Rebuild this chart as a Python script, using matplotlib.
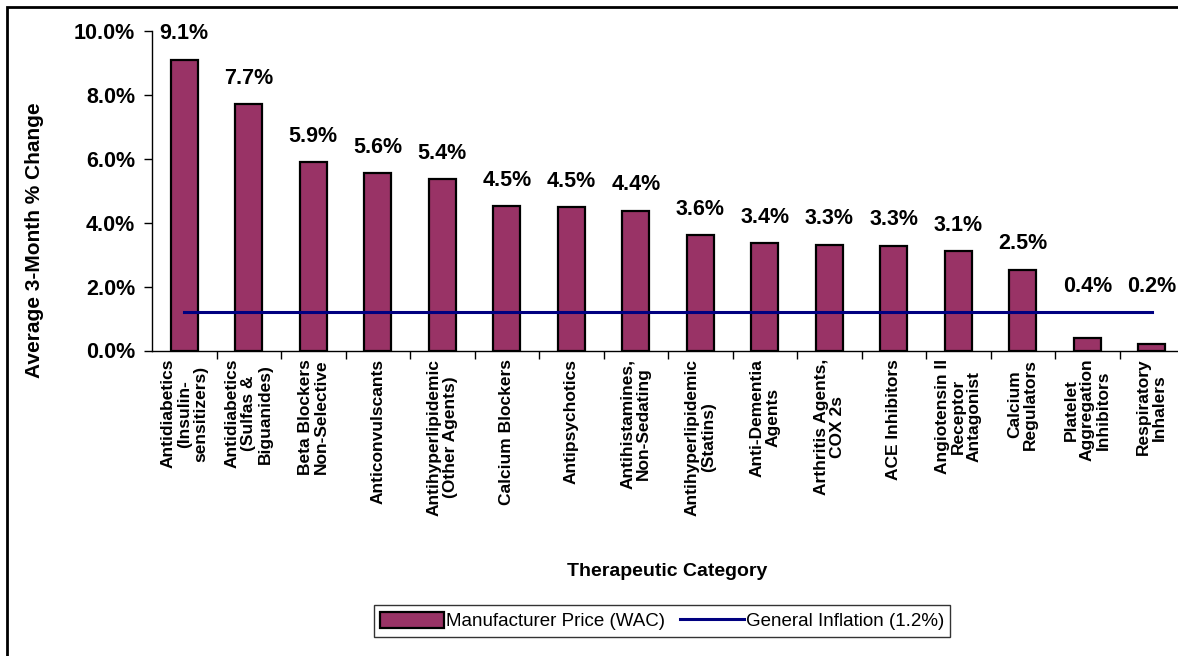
import matplotlib
matplotlib.use("Agg")
import matplotlib.pyplot as plt
from matplotlib.patches import Rectangle
import numpy as np

categories = [
    "Antidiabetics\n(Insulin-\nsensitizers)",
    "Antidiabetics\n(Sulfas &\nBiguanides)",
    "Beta Blockers\nNon-Selective",
    "Anticonvulscants",
    "Antihyperlipidemic\n(Other Agents)",
    "Calcium Blockers",
    "Antipsychotics",
    "Antihistamines,\nNon-Sedating",
    "Antihyperlipidemic\n(Statins)",
    "Anti-Dementia\nAgents",
    "Arthritis Agents,\nCOX 2s",
    "ACE Inhibitors",
    "Angiotensin II\nReceptor\nAntagonist",
    "Calcium\nRegulators",
    "Platelet\nAggregation\nInhibitors",
    "Respiratory\nInhalers",
]
wac_change = [9.1, 7.7, 5.9, 5.56, 5.36, 4.52, 4.48, 4.38, 3.6, 3.37, 3.31, 3.28, 3.12, 2.53, 0.4, 0.2]
inflation = 1.2
y_ticks = [0, 2, 4, 6, 8, 10]

FONT = "Liberation Sans"
W, H = 1178, 656
fig = plt.figure(figsize=(W / 100, H / 100), dpi=100)

ax = fig.add_axes([152 / W, (H - 350.5) / H, 1032 / W, 319.5 / H])
x = np.arange(len(categories))
bars = ax.bar(x, wac_change, width=0.42, color="#993366", edgecolor="black",
              linewidth=1.6, zorder=2, label="Manufacturer Price (WAC)")
line, = ax.plot(x, [inflation] * len(x), color="#000080", linewidth=2.2, zorder=3,
                label="General Inflation (1.2%)")

ax.set_xlim(-0.5, len(categories) - 0.5)
ax.set_ylim(0, 10)
ax.set_yticks(y_ticks)
ax.set_yticklabels([f"{v:.1f}%" for v in y_ticks], fontfamily=FONT,
                   fontweight="bold", fontsize=15.5)
ax.tick_params(axis="y", direction="out", length=6, width=1, pad=6)

ax.set_xticks(x)
ax.set_xticklabels(categories, rotation=90, fontfamily=FONT, fontweight="bold",
                   fontsize=12.5, ha="center", va="top", multialignment="center",
                   linespacing=1.1)
ax.tick_params(axis="x", which="major", length=0, pad=6)
ax.set_xticks(np.arange(0.5, len(categories) - 0.5, 1), minor=True)
ax.tick_params(axis="x", which="minor", direction="out", length=6, width=1)

for s in ["top", "right"]:
    ax.spines[s].set_visible(False)
ax.spines["left"].set_linewidth(1)
ax.spines["bottom"].set_linewidth(1)

for xi, v in zip(x, wac_change):
    base = inflation if v < inflation else v
    ax.annotate(f"{v:.1f}%", xy=(xi, base), xytext=(0, 11),
                textcoords="offset points", ha="center", va="bottom",
                fontfamily=FONT, fontweight="bold", fontsize=15.5,
                annotation_clip=False)

fig.text(35 / W, 1 - 240 / H, "Average 3-Month % Change", rotation=90,
         ha="center", va="center", fontfamily=FONT, fontweight="bold",
         fontsize=15)
fig.text(667 / W, 1 - 572 / H, "Therapeutic Category", ha="center",
         va="center", fontfamily=FONT, fontweight="bold", fontsize=14)

leg = fig.legend(handles=[bars, line], loc="center",
                 bbox_to_anchor=(662 / W, 1 - 621 / H),
                 ncol=2, frameon=True, fancybox=False, edgecolor="black",
                 prop={"family": FONT, "size": 13.5}, handlelength=3.4,
                 handleheight=1.0, handletextpad=0.1, columnspacing=0.8,
                 borderpad=0.35, borderaxespad=0)
leg.get_frame().set_linewidth(1)

fig.patches.append(Rectangle((7 / W, -0.1), 1.2, 1 - 7 / H + 0.1,
                             transform=fig.transFigure, fill=False,
                             edgecolor="black", linewidth=2))

fig.savefig("out.png", dpi=100)
